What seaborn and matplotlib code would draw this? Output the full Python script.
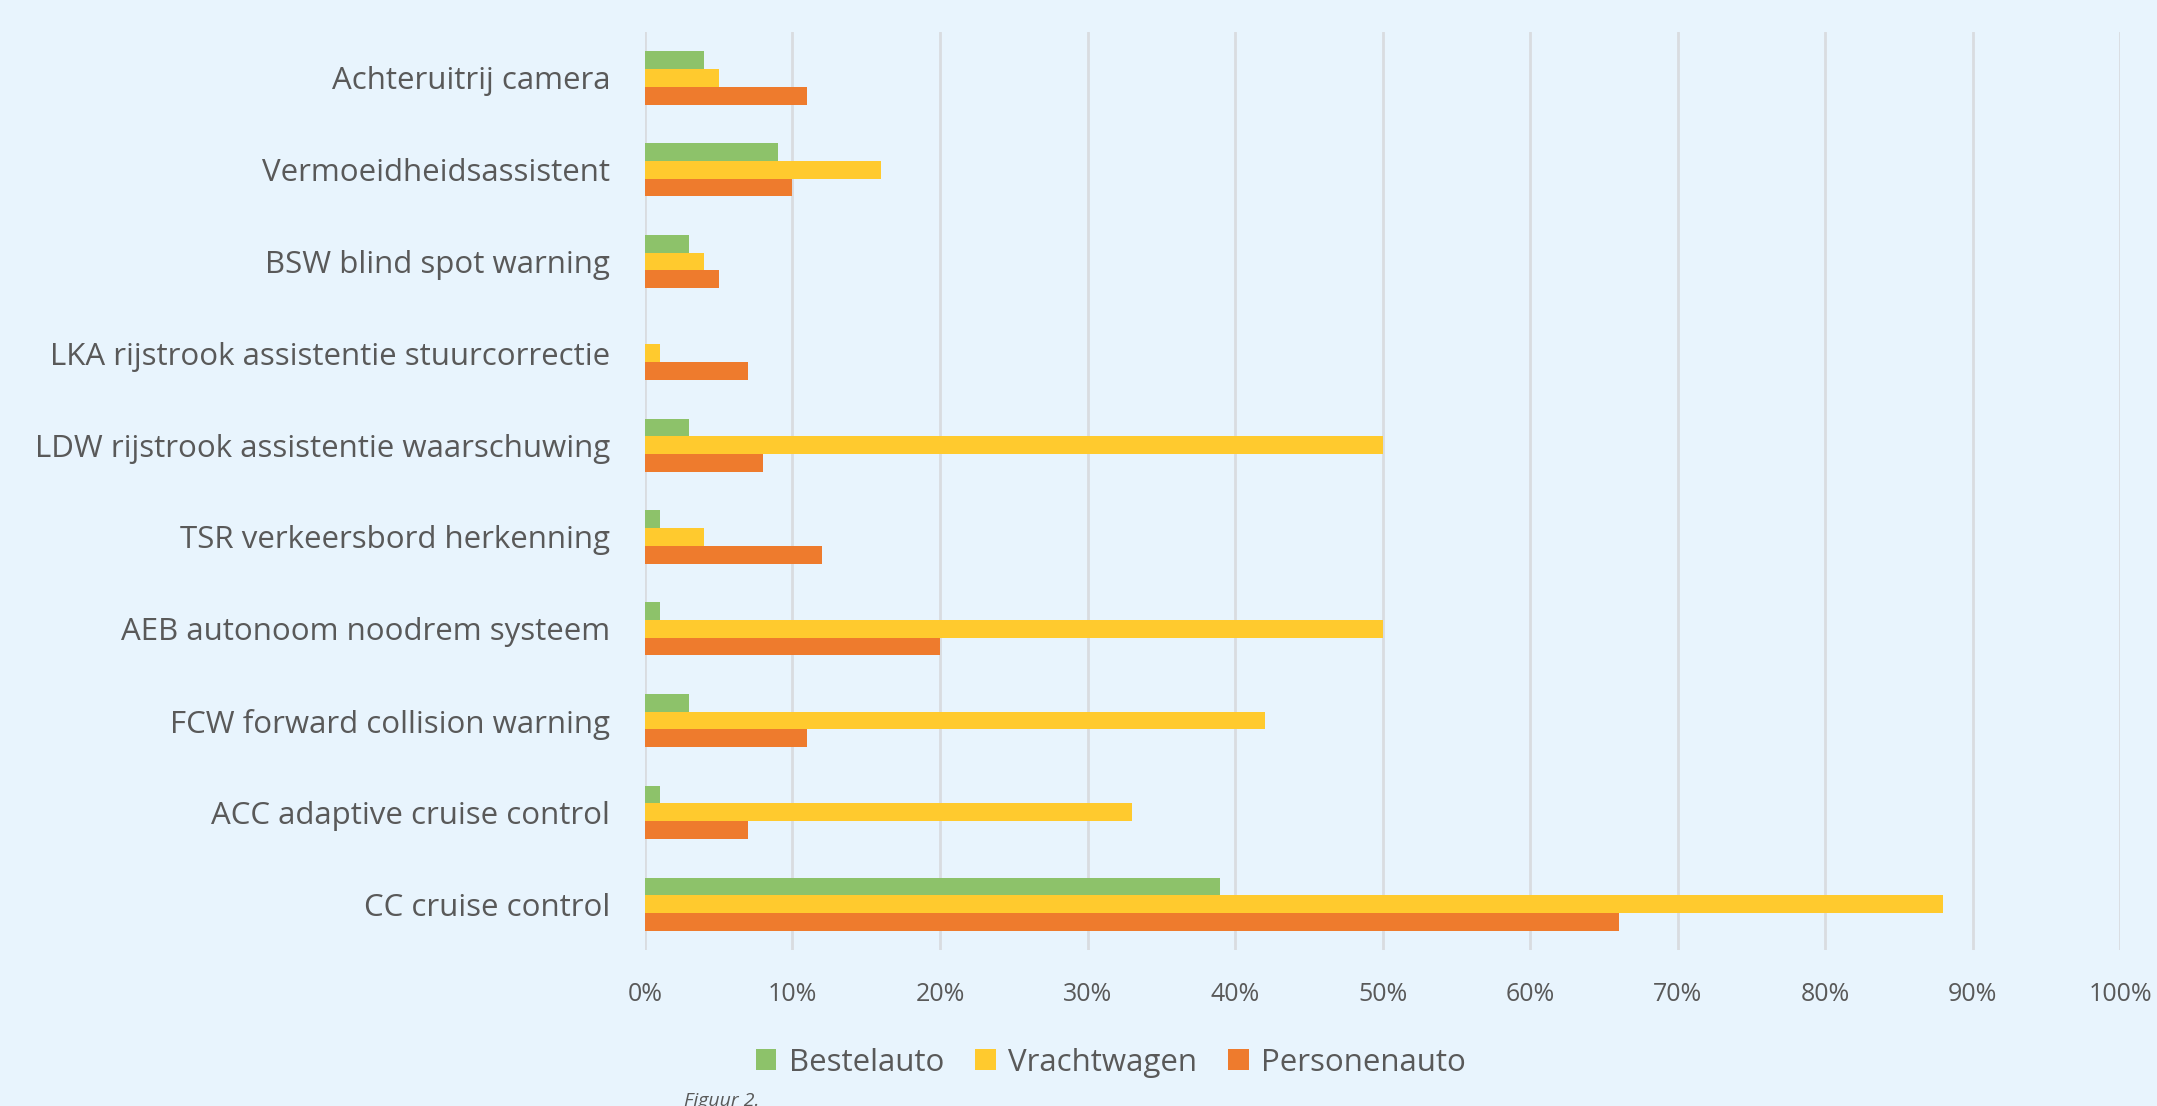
import matplotlib
matplotlib.use('Agg')
import matplotlib.pyplot as plt
from matplotlib.ticker import PercentFormatter
import pandas as pd
import seaborn as sns

systemen = ['Achteruitrij camera', 'Vermoeidheidsassistent', 'BSW blind spot warning',
            'LKA rijstrook assistentie stuurcorrectie', 'LDW rijstrook assistentie waarschuwing',
            'TSR verkeersbord herkenning', 'AEB autonoom noodrem systeem',
            'FCW forward collision warning', 'ACC adaptive cruise control', 'CC cruise control']
bestelauto = [4, 9, 3, 0, 3, 1, 1, 3, 1, 39]
vrachtwagen = [5, 16, 4, 1, 50, 4, 50, 42, 33, 88]
personenauto = [11, 10, 5, 7, 8, 12, 20, 11, 7, 66]
voertuigen = ['Bestelauto', 'Vrachtwagen', 'Personenauto']
kleuren = ['#8DC26A', '#FFCA2E', '#EE7B2D']

rijen = []
for naam, waarden in zip(voertuigen, [bestelauto, vrachtwagen, personenauto]):
    for s, w in zip(systemen, waarden):
        rijen.append({'Systeem': s, 'Voertuig': naam, 'Aandeel': w / 100})
df = pd.DataFrame(rijen)

bg = '#E8F4FD'
grijs = '#595959'
sns.set_style('white')
plt.rcParams['font.family'] = ['Open Sans', 'DejaVu Sans']

fig = plt.figure(figsize=(21.57, 11.06), dpi=100, facecolor=bg)
ax = fig.add_axes([0.299, 0.141, 0.684, 0.83])
ax.set_facecolor(bg)

sns.barplot(data=df, y='Systeem', x='Aandeel', hue='Voertuig', order=systemen,
            hue_order=voertuigen, palette=kleuren, orient='h', width=0.58,
            saturation=1, linewidth=0, ax=ax, legend=True)

ax.set_xlim(0, 1)
ax.set_xticks([i / 10 for i in range(11)])
ax.xaxis.set_major_formatter(PercentFormatter(1, decimals=0))
ax.grid(axis='x', color='#D9DCE0', linewidth=2)
ax.set_axisbelow(True)
for sp in ax.spines.values():
    sp.set_visible(False)
ax.set_xlabel('')
ax.set_ylabel('')
ax.tick_params(axis='both', length=0, labelcolor=grijs)
ax.tick_params(axis='y', labelsize=22.5, pad=25)
ax.tick_params(axis='x', labelsize=18, pad=23)

ax.legend(loc='center', bbox_to_anchor=(0.515, 0.039), bbox_transform=fig.transFigure,
          ncol=3, frameon=False, fontsize=22.5, handlelength=0.65, handleheight=0.65,
          columnspacing=1.0, handletextpad=0.4, labelcolor=grijs)

fig.text(0.317, 0.0, 'Figuur 2.', fontsize=14, style='italic', color=grijs)

fig.savefig('out.png', dpi=100, facecolor=bg)
